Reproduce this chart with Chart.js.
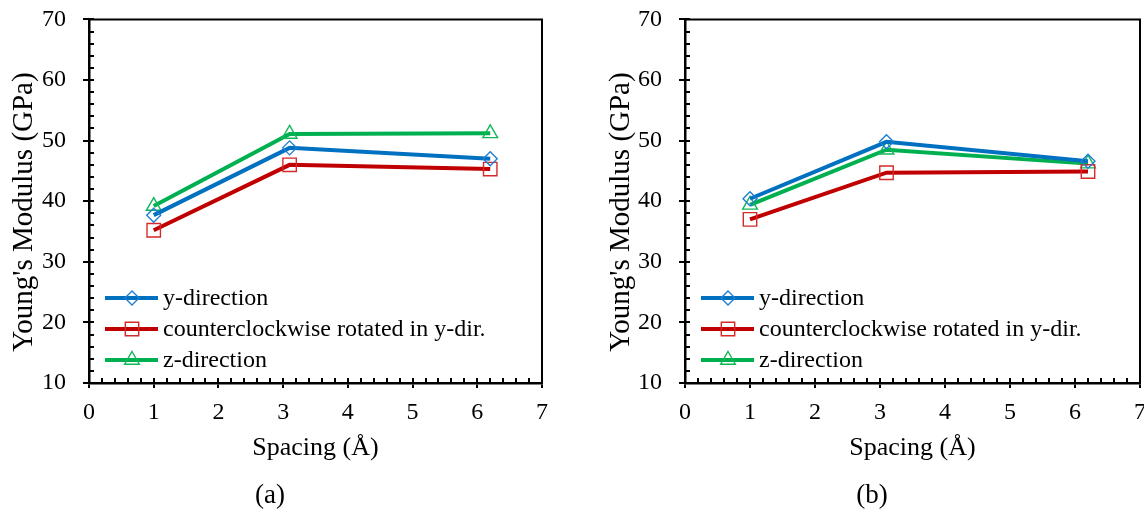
<!DOCTYPE html>
<html>
<head>
<meta charset="utf-8">
<script src="https://cdn.jsdelivr.net/npm/chart.js@4/dist/chart.umd.min.js"></script>
<style>
  body { margin: 0; background: #fff; overflow: hidden; }
  .panel { position: absolute; top: -12px; height: 533px; }
  .cap { position: absolute; top: 479px; width: 60px; text-align: center;
         font-family: "Liberation Serif", serif; font-size: 27px; color: #000; }
</style>
</head>
<body>
<div class="panel" style="left:0"><canvas id="chartA" width="572" height="533"></canvas></div>
<div class="panel" style="left:572px"><canvas id="chartB" width="584" height="533"></canvas></div>
<div class="cap" style="left:240px">(a)</div>
<div class="cap" style="left:842px">(b)</div>
<script>
// du lieu doc tu hinh
const spacing = [1, 3.1, 6.2];
const seriesNames = ["y-direction", "counterclockwise rotated in y-dir.", "z-direction"];

const a_yDir = [37.7, 48.8, 47.0];
const a_ccw = [35.2, 46.0, 45.3];
const a_zDir = [39.2, 51.1, 51.2];

const b_yDir = [40.4, 49.8, 46.6];
const b_ccw = [37.0, 44.7, 44.9];
const b_zDir = [39.4, 48.5, 46.2];

const xTicks = [0, 1, 2, 3, 4, 5, 6, 7];
const yTicks = [10, 20, 30, 40, 50, 60, 70];

const colors = ["#0070C0", "#C00000", "#00B050"];
const markerColors = ["#1F7FD0", "#D42A2A", "#10B858"];
const styles = ["rectRot", "rect", "triangle"];
const radii = [7, 9.5, 8.5];
const FONT = "'Liberation Serif', 'Times New Roman', serif";

const makeDatasets = (values) =>
  values.map((vals, i) => ({
    label: seriesNames[i],
    data: spacing.map((x, k) => ({ x: x, y: vals[k] })),
    showLine: true,
    borderColor: colors[i],
    borderWidth: 4,
    pointStyle: styles[i],
    pointRadius: radii[i],
    pointBorderColor: markerColors[i],
    pointBackgroundColor: "rgba(0,0,0,0)",
    pointBorderWidth: 1.4,
    tension: 0,
  }));

// ve marker cho chu thich
const drawMarker = (ctx, style, x, y, r) => {
  ctx.beginPath();
  if (style === "rectRot") {
    ctx.moveTo(x, y - r); ctx.lineTo(x + r, y); ctx.lineTo(x, y + r); ctx.lineTo(x - r, y);
  } else if (style === "rect") {
    const s = r / Math.SQRT2;
    ctx.rect(x - s, y - s, 2 * s, 2 * s);
  } else {
    ctx.moveTo(x, y - r); ctx.lineTo(x + r * Math.sqrt(3) / 2, y + r / 2); ctx.lineTo(x - r * Math.sqrt(3) / 2, y + r / 2);
  }
  ctx.closePath();
  ctx.stroke();
};

// khung, vach chia phu va chu thich
const framePlugin = {
  id: "frame",
  afterDraw(chart) {
    const { ctx, chartArea: ca, scales } = chart;
    ctx.save();
    ctx.strokeStyle = "#000";
    ctx.lineWidth = 2;
    ctx.beginPath();
    ctx.moveTo(ca.left, ca.top); ctx.lineTo(ca.right, ca.top); ctx.lineTo(ca.right, ca.bottom);
    ctx.stroke();

    ctx.beginPath();
    for (let v = 10; v <= 70; v += 2) {
      const py = Math.round(scales.y.getPixelForValue(v));
      ctx.moveTo(ca.left, py); ctx.lineTo(ca.left + 5, py);
    }
    for (let k = 0; k <= 35; k++) {
      const px = Math.round(scales.x.getPixelForValue(k / 5));
      ctx.moveTo(px, ca.bottom); ctx.lineTo(px, ca.bottom - 5);
    }
    ctx.stroke();

    chart.data.datasets.forEach((ds, i) => {
      const y = ca.bottom - 85 + i * 31;
      const x0 = ca.left + 16;
      ctx.strokeStyle = ds.borderColor;
      ctx.lineWidth = 4;
      ctx.beginPath();
      ctx.moveTo(x0, y); ctx.lineTo(x0 + 53, y);
      ctx.stroke();
      ctx.strokeStyle = ds.pointBorderColor;
      ctx.lineWidth = 1.4;
      drawMarker(ctx, ds.pointStyle, x0 + 27, y, ds.pointRadius);
      ctx.fillStyle = "#000";
      ctx.font = "24px " + FONT;
      ctx.textAlign = "left";
      ctx.textBaseline = "middle";
      ctx.fillText(ds.label, x0 + 58, y + 1);
    });
    ctx.restore();
  },
};

const makeChart = (id, values, yWidth, rightPad, yTitlePad) => {
  const ctx = document.getElementById(id).getContext("2d");
  return new Chart(ctx, {
    type: "scatter",
    data: { datasets: makeDatasets(values) },
    options: {
      responsive: false,
      animation: false,
      layout: { padding: { left: 0, right: rightPad, top: 0, bottom: 0 } },
      plugins: { legend: { display: false }, tooltip: { enabled: false } },
      scales: {
        x: {
          type: "linear",
          min: 0,
          max: 7,
          afterBuildTicks: (s) => { s.ticks = xTicks.map((v) => ({ value: v })); },
          afterFit: (s) => { s.height = 138; },
          ticks: { color: "#000", font: { family: FONT, size: 24 }, padding: 10 },
          grid: { drawOnChartArea: false, drawTicks: true, tickLength: 5, color: "#000", lineWidth: 2 },
          border: { display: true, color: "#000", width: 2.5 },
          title: { display: true, text: "Spacing (Å)", color: "#000", font: { family: FONT, size: 26 }, padding: { top: 0, bottom: 57 } },
        },
        y: {
          type: "linear",
          min: 10,
          max: 70,
          afterBuildTicks: (s) => { s.ticks = yTicks.map((v) => ({ value: v })); },
          afterFit: (s) => { s.width = yWidth; },
          ticks: { color: "#000", font: { family: FONT, size: 24 }, padding: 17 },
          grid: { drawOnChartArea: false, drawTicks: true, tickLength: 6, color: "#000", lineWidth: 2 },
          border: { display: true, color: "#000", width: 2.5 },
          title: { display: true, text: "Young's Modulus (GPa)\u00A0\u00A0\u00A0", color: "#000", font: { family: FONT, size: 29 }, padding: { top: yTitlePad, bottom: 0 } },
        },
      },
    },
    plugins: [framePlugin],
  });
};

makeChart("chartA", [a_yDir, a_ccw, a_zDir], 89, 30, 7);
makeChart("chartB", [b_yDir, b_ccw, b_zDir], 113, 0, 32);
</script>
</body>
</html>
